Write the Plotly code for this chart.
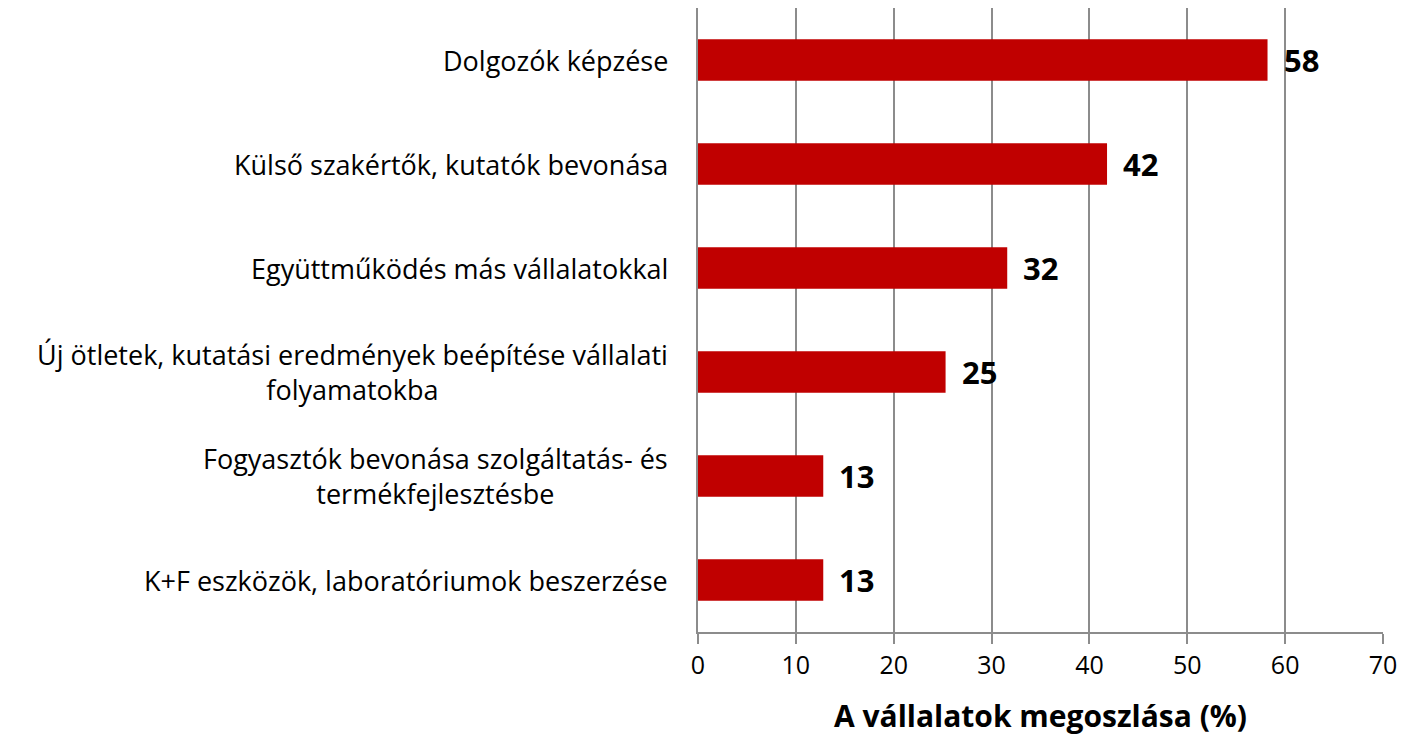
import plotly.graph_objects as go

# Categories, top to bottom as in the chart
categories = [
    "Dolgozók képzése",
    "Külső szakértők, kutatók bevonása",
    "Együttműködés más vállalatokkal",
    "Új ötletek, kutatási eredmények beépítése vállalati<br>folyamatokba",
    "Fogyasztók bevonása szolgáltatás- és<br>termékfejlesztésbe",
    "K+F eszközök, laboratóriumok beszerzése",
]
values = [58.2, 41.8, 31.6, 25.3, 12.8, 12.8]
labels = ["58", "42", "32", "25", "13", "13"]
x_ticks = [0, 10, 20, 30, 40, 50, 60, 70]

font_family = "Open Sans, Liberation Sans, sans-serif"

fig = go.Figure(
    go.Bar(
        y=list(range(len(categories))),
        x=values,
        orientation="h",
        marker=dict(color="#C00000", line=dict(width=0)),
        width=0.4,
        hoverinfo="skip",
    )
)

# Category labels, right-aligned to the axis, lines centred on each other
for i, cat in enumerate(categories):
    fig.add_annotation(
        x=0, y=i, xref="x", yref="y",
        text=cat, showarrow=False,
        xanchor="right", yanchor="middle", align="center",
        xshift=-28,
        font=dict(family=font_family, size=27, color="black"),
    )

# Data labels
for i, (v, lab) in enumerate(zip(values, labels)):
    fig.add_annotation(
        x=v, y=i, xref="x", yref="y",
        text="<b>" + lab + "</b>", showarrow=False,
        xanchor="left", yanchor="middle",
        xshift=14,
        font=dict(family=font_family, size=31, color="black"),
    )

fig.update_xaxes(
    range=[0, 70],
    tickvals=x_ticks,
    ticks="outside",
    ticklen=10,
    tickcolor="#8c8c8c",
    tickwidth=2,
    showgrid=True,
    gridcolor="#8c8c8c",
    gridwidth=2,
    showline=True,
    linecolor="#8c8c8c",
    linewidth=2,
    zeroline=False,
    ticklabeloverflow="allow",
    tickfont=dict(family=font_family, size=25, color="black"),
    title=dict(
        text="<b>A vállalatok megoszlása (%)</b>",
        font=dict(family=font_family, size=30, color="black"),
        standoff=26,
    ),
)

fig.update_yaxes(
    range=[5.5, -0.5],
    showticklabels=False,
    showgrid=False,
    zeroline=False,
    showline=True,
    linecolor="#8c8c8c",
    linewidth=2,
)

# Page body has an 8px margin; keep the figure inside it so "70" is not cut
fig.update_layout(
    width=1390,
    height=734,
    margin=dict(l=690, r=15, t=0, b=110),
    plot_bgcolor="white",
    paper_bgcolor="white",
    showlegend=False,
    bargap=0.6,
)

fig.write_html(
    "out.html",
    config=dict(displayModeBar=False),
    post_script="document.documentElement.style.overflow = 'hidden';",
)
